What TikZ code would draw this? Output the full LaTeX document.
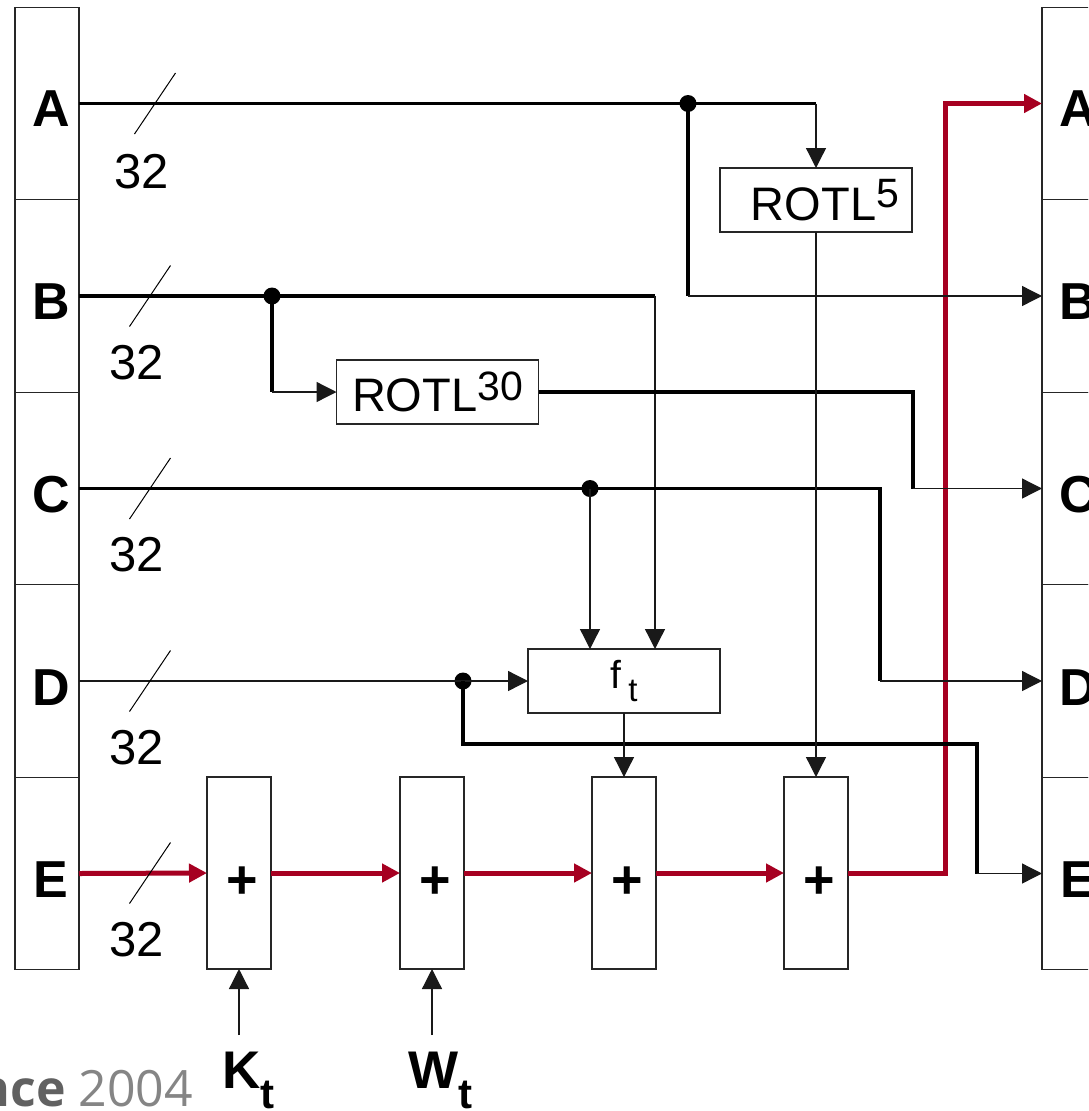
\documentclass[tikz,border=0pt]{standalone}
\usepackage{fontspec}
\setmainfont{Liberation Sans}
\newfontfamily\wmfont{Open Sans}
\usetikzlibrary{arrows.meta}
\definecolor{shared}{RGB}{166,0,33}
\begin{document}
\begin{tikzpicture}[x=1pt,y=-1pt,
  every node/.style={inner sep=0pt, outer sep=0pt},
  box/.style={draw=black!85, line width=1.3pt, fill=white, rectangle},
  reg/.style={box, minimum width=64pt, minimum height=192.5pt},
  addbox/.style={box, minimum width=64pt, minimum height=192pt},
  fbox/.style={box, minimum width=192pt, minimum height=64pt, font=\fontsize{47}{47}\selectfont},
  letter/.style={font=\fontsize{52}{52}\selectfont\bfseries},
  width32/.style={font=\fontsize{49}{49}\selectfont},
  plussign/.style={font=\fontsize{54}{54}\selectfont\bfseries},
  inlabel/.style={font=\fontsize{53}{53}\selectfont\bfseries, anchor=base west},
  dotn/.style={circle, fill=black, minimum size=17pt},
  bus/.style={line width=3.1pt, line join=miter},
  wire/.style={line width=1.3pt, draw=black!90},
  tip/.style={-{Triangle[length=20pt,width=20pt]}},
  redbus/.style={draw=shared, line width=5pt, line join=miter},
  redtip/.style={-{Triangle[length=18pt,width=18pt]}},
  slash/.style={line width=1pt}
]
\clip (0,0) rectangle (1088,1111);
\fill[white] (0,0) rectangle (1088,1111);

% left registers
\node[reg] (LA) at (47,103.5) {};
\node[reg] (LB) at (47,296) {};
\node[reg] (LC) at (47,488.5) {};
\node[reg] (LD) at (47,681) {};
\node[reg] (LE) at (47,873.5) {};
\node[letter] (tLA) at (51,109) {A};
\node[letter] (tLB) at (51,302) {B};
\node[letter] (tLC) at (51,495) {C};
\node[letter] (tLD) at (51,688) {D};
\node[letter] (tLE) at (51,880) {E};

% right registers (cut at the picture's right edge, as in the reference)
\node[reg] (RA) at (1074,103.5) {};
\node[reg] (RB) at (1074,296) {};
\node[reg] (RC) at (1074,488.5) {};
\node[reg] (RD) at (1074,681) {};
\node[reg] (RE) at (1074,873.5) {};
\node[letter] (tRA) at (1078,109) {A};
\node[letter] (tRB) at (1078,302) {B};
\node[letter] (tRC) at (1078,495) {C};
\node[letter] (tRD) at (1078,688) {D};
\node[letter] (tRE) at (1078,880) {E};

% adders
\node[addbox] (P1) at (239,873) {};
\node[addbox] (P2) at (432,873) {};
\node[addbox] (P3) at (624,873) {};
\node[addbox] (P4) at (816,873) {};
\node[plussign] (s1) at (242,883) {+};
\node[plussign] (s2) at (435,883) {+};
\node[plussign] (s3) at (627,883) {+};
\node[plussign] (s4) at (819,883) {+};

% function boxes
\node[fbox] (R5) at (816,200) {\hspace*{18pt}ROTL\raisebox{13pt}{\fontsize{41}{41}\selectfont 5}};
\node[fbox, minimum width=202pt] (R30) at (437.5,392) {ROTL\raisebox{11pt}{\fontsize{41}{41}\selectfont 30}};
\node[fbox, font=\fontsize{39}{39}\selectfont] (F) at (624,681) {f\hspace{7pt}\raisebox{-13pt}{\fontsize{33}{33}\selectfont t}};

% width labels
\node[width32] (nA) at (142,172) {32};
\node[width32] (nB) at (137,363) {32};
\node[width32] (nC) at (137,555) {32};
\node[width32] (nD) at (137,748) {32};
\node[width32] (nE) at (137,940) {32};

% red path (drawn first, black wires cross over it)
\coordinate (up1) at (945,873);
\draw[redbus,redtip] (LE.east) -- (P1.west);
\draw[redbus,redtip] (P1.east) -- (P2.west);
\draw[redbus,redtip] (P2.east) -- (P3.west);
\draw[redbus,redtip] (P3.east) -- (P4.west);
\draw[redbus,redtip] (P4.east) -- (up1) -- (up1 |- RA.west) -- (RA.west);

% dots
\node[dotn] (dA) at (688,103.5) {};
\node[dotn] (dB) at (272,296) {};
\node[dotn] (dC) at (590,488.5) {};
\node[dotn] (dD) at (463,681) {};

% A
\draw[bus] (LA.east) -- (R5.north |- LA.east);
\draw[wire,tip] (R5.north |- LA.east) -- (R5.north);
\draw[bus] (dA.center) -- (dA.center |- RB.west);
\draw[wire,tip] (dA.center |- RB.west) -- (RB.west);

% B
\coordinate (fB) at ([xshift=31pt]F.north);
\coordinate (fC) at ([xshift=-34pt]F.north);
\draw[bus] (LB.east) -- (fB |- LB.east);
\draw[wire,tip] (fB |- LB.east) -- (fB);
\draw[bus] (dB.center) -- (dB.center |- R30.west);
\draw[wire,tip] (dB.center |- R30.west) -- (R30.west);

% ROTL30 -> C
\coordinate (kC) at (913,392);
\draw[bus] (R30.east) -- (kC) -- (kC |- RC.west);
\draw[wire,tip] (kC |- RC.west) -- (RC.west);

% C
\coordinate (kD) at (880,488.5);
\draw[bus] (LC.east) -- (kD) -- (kD |- RD.west);
\draw[wire,tip] (kD |- RD.west) -- (RD.west);
\draw[wire,tip] (dC.center) -- (fC);

% D
\draw[wire,tip] (LD.east) -- (F.west);
\coordinate (kE1) at (463,744);
\coordinate (kE2) at (977,744);
\draw[bus] (dD.center) -- (kE1) -- (kE2) -- (kE2 |- RE.west);
\draw[wire,tip] (kE2 |- RE.west) -- (RE.west);

% into adders
\draw[wire,tip] (F.south) -- (P3.north);
\draw[wire,tip] (R5.south) -- (P4.north);

% K and W inputs
\node[inlabel] (K) at (222,1088) {K\raisebox{-20pt}{\fontsize{42}{42}\selectfont t}};
\node[inlabel] (W) at (408,1088) {W\raisebox{-20pt}{\fontsize{42}{42}\selectfont t}};
\coordinate (kin) at (239,1035);
\coordinate (win) at (432,1035);
\draw[wire,tip] (kin) -- (P1.south);
\draw[wire,tip] (win) -- (P2.south);

% width slashes
\draw[slash] (155,103.5) ++(-20.5,30.5) -- ++(41,-61);
\draw[slash] (150,296) ++(-20.5,30.5) -- ++(41,-61);
\draw[slash] (150,488.5) ++(-20.5,30.5) -- ++(41,-61);
\draw[slash] (150,681) ++(-20.5,30.5) -- ++(41,-61);
\draw[slash] (150,873) ++(-20.5,30.5) -- ++(41,-61);

% cropped caption
\node[anchor=base east, text=black!48, font=\wmfont\fontsize{50}{50}\selectfont] (wm) at (193,1106) {{\bfseries\color{black!62}nce} 2004};
\end{tikzpicture}
\end{document}
